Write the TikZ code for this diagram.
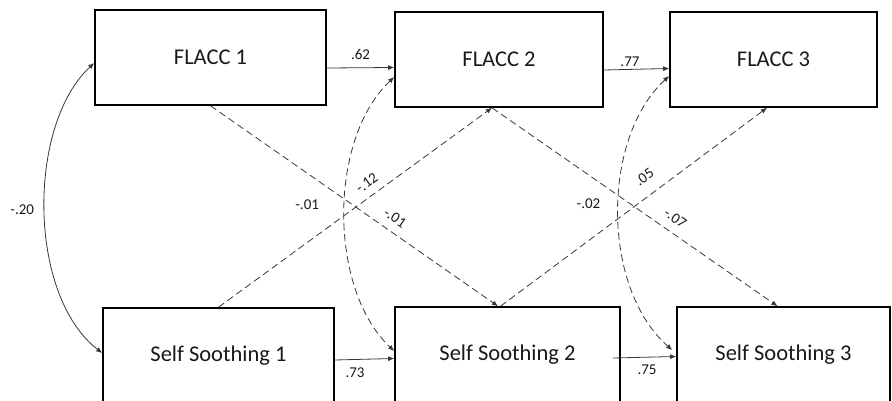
\documentclass[tikz,border=0pt]{standalone}
\usepackage{fontspec}
\setmainfont{Carlito}
\usetikzlibrary{arrows.meta, positioning, calc}
\definecolor{lnclr}{RGB}{55,55,55}
\definecolor{txtclr}{RGB}{25,25,25}

\begin{document}
\begin{tikzpicture}[
  x=1pt, y=-1pt,
  var/.style={draw, line width=1.6pt, minimum height=95pt, inner sep=0pt,
              text=txtclr, font=\fontsize{22.5}{27}\selectfont},
  lbl/.style={font=\fontsize{15}{18}\selectfont, text=txtclr, inner sep=1pt},
  ar/.style={-{Latex[length=6pt,width=5pt]}, line width=0.8pt, draw=lnclr},
  cl/.style={ar, dash pattern=on 7pt off 4pt},
  cov/.style={{Latex[length=6pt,width=5pt]}-{Latex[length=6pt,width=5pt]},
              line width=0.8pt, draw=lnclr},
  dcov/.style={cov, dash pattern=on 7pt off 4pt},
]
\clip (0,0) rectangle (892,401);

\node[var, minimum width=231pt] (fl1) at (210.5,57.5) {FLACC 1};
\node[var, minimum width=208pt] (fl2) at (499,59.5) {FLACC 2};
\node[var, minimum width=207pt] (fl3) at (773.5,59.5) {FLACC 3};
\node[var, minimum width=231pt] (ss1) at (218.5,355.5) {Self Soothing 1};
\node[var, minimum width=225pt] (ss2) at (507.5,354.5) {Self Soothing 2};
\node[var, minimum width=213pt] (ss3) at (783.5,354.5) {Self Soothing 3};

% stability paths
\draw[ar] ([yshift=-10.5pt]fl1.east) -- node[lbl, above=6.8pt] {.62} ([yshift=-8pt]fl2.west);
\draw[ar] ([yshift=-10.5pt]fl2.east) -- node[lbl, pos=0.4, above=1.3pt] {.77} ([yshift=-9pt]fl3.west);
\draw[ar] ([yshift=-4.5pt]ss1.east) -- node[lbl, pos=0.34, below=6.8pt] {.73} ([yshift=-4pt]ss2.west);
\draw[ar] ([xshift=-8pt,yshift=-3.5pt]ss2.east) -- node[lbl, pos=0.54, below=6.3pt] {.75} ([yshift=-2pt]ss3.west);

% cross-lagged paths
\draw[cl] (fl1.south) -- node[lbl, sloped, pos=0.615, above=7.3pt] {-.01} ([xshift=-9.5pt]ss2.north);
\draw[cl] (ss1.north) -- node[lbl, sloped, pos=0.57, above=6.6pt] {-.12} ([xshift=-7pt]fl2.south);
\draw[cl] ([xshift=-7pt]fl2.south) -- node[lbl, sloped, pos=0.614, above=7.8pt] {-.07} ([xshift=-6pt]ss3.north);
\draw[cl] ([xshift=-7pt]ss2.north) -- node[lbl, sloped, pos=0.58, above=11.5pt] {.05} ([xshift=-6.5pt]fl3.south);

% within-wave covariances
\draw[cov] ([yshift=-5.5pt]fl1.west) .. controls +(-67,62) and +(-75,-58) ..
  node[lbl, left=9.5pt] {-.20} ([yshift=2.5pt]ss1.west);
\draw[dcov] ([yshift=-17.5pt]fl2.west) .. controls +(-66,62) and +(-66,-62) ..
  node[lbl, pos=0.47, left=24.5pt] {-.01} ([yshift=3.5pt]ss2.west);
\draw[dcov] ([yshift=-16.5pt]fl3.west) .. controls +(-68,62) and +(-71,-62) ..
  node[lbl, pos=0.47, left=17pt] {-.02} ([xshift=-4pt,yshift=4.5pt]ss3.west);
\end{tikzpicture}
\end{document}
